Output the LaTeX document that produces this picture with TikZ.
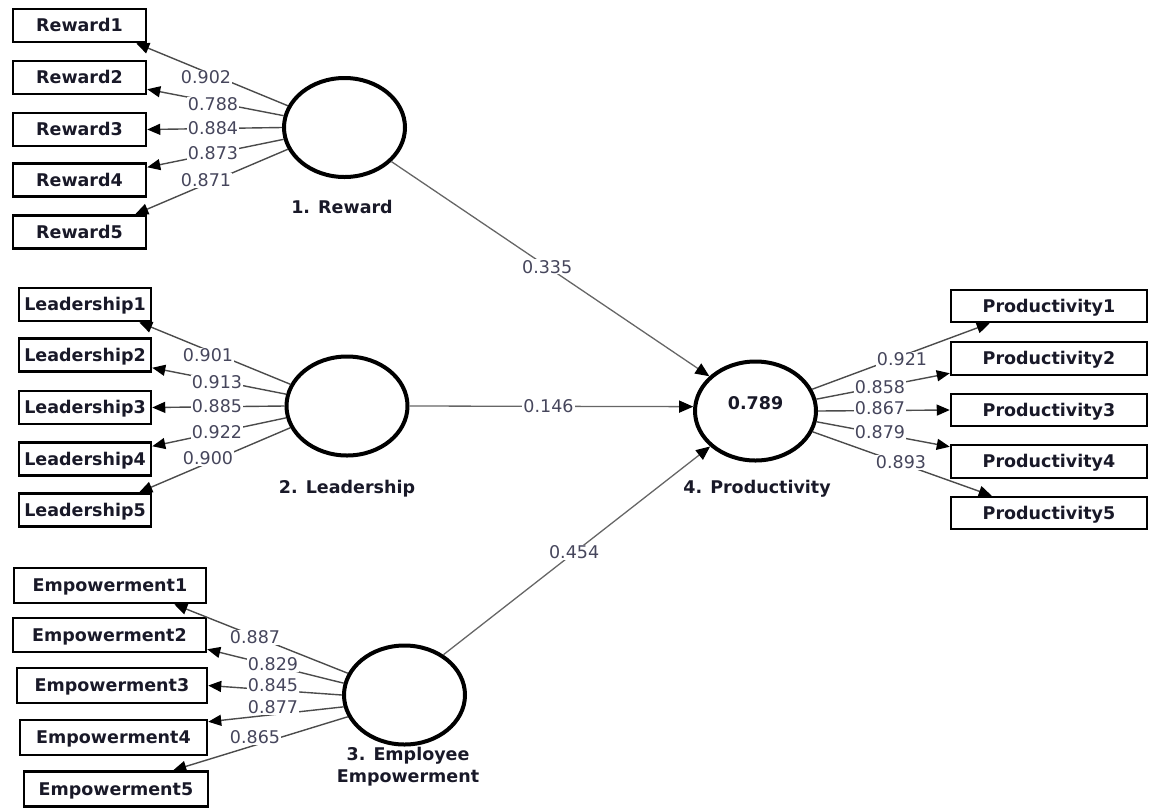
\documentclass[tikz,border=0pt]{standalone}
\usepackage{fontspec}
\setmainfont{DejaVu Sans}
\usetikzlibrary{shapes.geometric,arrows.meta}
\definecolor{txtcol}{RGB}{25,25,40}
\definecolor{numcol}{RGB}{70,70,92}
\definecolor{lncol}{RGB}{75,75,75}
\begin{document}
\begin{tikzpicture}[x=1pt,y=-1pt,
  ind/.style={draw=black, line width=2.5pt, fill=white,
    font=\fontsize{17.5}{20}\selectfont\bfseries, text=txtcol,
    text height=12.6pt, text depth=0pt, inner sep=0pt, minimum height=33pt},
  lat/.style={ellipse, draw=black, line width=4pt, fill=white,
    minimum width=121pt, minimum height=99pt, inner sep=0pt},
  numlbl/.style={fill=white, inner sep=1.2pt, font=\fontsize{17.5}{20}\selectfont,
    text=numcol, text height=12.6pt, text depth=0pt},
  latlbl/.style={font=\fontsize{17.5}{22}\selectfont\bfseries, text=txtcol,
    align=center, text height=12.6pt, text depth=0pt, inner sep=0pt},
  load/.style={draw=lncol, line width=1.4pt,
    -{Triangle[length=13pt,width=11pt,color=black]}},
  struct/.style={draw=lncol!85, line width=1.3pt,
    -{Triangle[length=14pt,width=12pt,color=black]}}
]
\useasboundingbox (0,0) rectangle (1151,807);

% latent variables
\node[lat] (rew) at (344.5,127.5) {};
\node[lat] (lead) at (347,406) {};
\node[lat] (emp) at (404.5,695) {};
\node[lat, font=\fontsize{17.5}{20}\selectfont\bfseries, text=txtcol,
      text height=12.6pt, text depth=16pt] (prod) at (755.5,411) {0.789};

\node[latlbl] (rewl) at (342,207) {1. Reward};
\node[latlbl] (leadl) at (347,487) {2. Leadership};
\node[latlbl] (empl) at (408,776) {3. Employee\\Empowerment};
\node[latlbl] (prodl) at (757,487) {4. Productivity};

% indicators: Reward
\node[ind, minimum width=133pt] (r1) at (79.5,25.5) {Reward1};
\node[ind, minimum width=133pt] (r2) at (79.5,77.5) {Reward2};
\node[ind, minimum width=133pt] (r3) at (79.5,129.5) {Reward3};
\node[ind, minimum width=133pt] (r4) at (79.5,180) {Reward4};
\node[ind, minimum width=133pt] (r5) at (79.5,232) {Reward5};
% Leadership
\node[ind, minimum width=132pt] (l1) at (85,304.5) {Leadership1};
\node[ind, minimum width=132pt] (l2) at (85,355) {Leadership2};
\node[ind, minimum width=132pt] (l3) at (85,407.5) {Leadership3};
\node[ind, minimum width=132pt] (l4) at (85,459) {Leadership4};
\node[ind, minimum width=132pt] (l5) at (85,510) {Leadership5};
% Empowerment
\node[ind, minimum width=192pt, minimum height=35pt] (e1) at (110,585.5) {Empowerment1};
\node[ind, minimum width=193pt, minimum height=34pt] (e2) at (109.5,635) {Empowerment2};
\node[ind, minimum width=190pt, minimum height=35pt] (e3) at (112,685.5) {Empowerment3};
\node[ind, minimum width=187pt, minimum height=35pt] (e4) at (113.5,737.5) {Empowerment4};
\node[ind, minimum width=184pt, minimum height=35pt] (e5) at (116,789) {Empowerment5};
% Productivity
\node[ind, minimum width=196pt, minimum height=32pt] (p1) at (1049,306) {Productivity1};
\node[ind, minimum width=196pt, minimum height=33pt] (p2) at (1049,358.5) {Productivity2};
\node[ind, minimum width=196pt, minimum height=32pt] (p3) at (1049,410) {Productivity3};
\node[ind, minimum width=196pt, minimum height=33pt] (p4) at (1049,461.5) {Productivity4};
\node[ind, minimum width=196pt, minimum height=32pt] (p5) at (1049,513) {Productivity5};

% loadings: Reward
\draw[load] (rew.159) -- ([xshift=-11pt]r1.south east);
\draw[load] (rew.169) -- ([yshift=6pt]r2.south east);
\draw[load] (rew.180) -- (r3.east);
\draw[load] (rew.191) -- ([yshift=-5pt]r4.north east);
\draw[load] (rew.201) -- ([xshift=-12pt]r5.north east);
% Leadership
\draw[load] (lead.159) -- ([xshift=-13pt]l1.south east);
\draw[load] (lead.169) -- ([yshift=5pt]l2.south east);
\draw[load] (lead.180) -- (l3.east);
\draw[load] (lead.191) -- ([yshift=-5pt]l4.north east);
\draw[load] (lead.201) -- ([xshift=-13pt]l5.north east);
% Empowerment
\draw[load] (emp.159) -- ([xshift=-33pt]e1.south east);
\draw[load] (emp.169) -- ([yshift=4pt]e2.south east);
\draw[load] (emp.180) -- (e3.east);
\draw[load] (emp.191) -- ([yshift=-3pt]e4.north east);
\draw[load] (emp.201) -- ([xshift=-36pt]e5.north east);
% Productivity
\draw[load] (prod.21) -- ([xshift=40pt]p1.south west);
\draw[load] (prod.11) -- ([yshift=3pt]p2.south west);
\draw[load] (prod.0) -- (p3.west);
\draw[load] (prod.-10) -- ([yshift=-3pt]p4.north west);
\draw[load] (prod.-20) -- ([xshift=42pt]p5.north west);

% structural paths
\draw[struct] (rew.-36) -- node[numlbl, pos=0.49] {0.335} (prod.143);
\draw[struct] (lead.east) -- node[numlbl, pos=0.49] {0.146} (prod.176);
\draw[struct] (emp.46) -- node[numlbl, pos=0.49] {0.454} (prod.218);

% loading values
\node[numlbl] at (206,77) {0.902};
\node[numlbl] at (213,104) {0.788};
\node[numlbl] at (213,128) {0.884};
\node[numlbl] at (213,153) {0.873};
\node[numlbl] at (206,180) {0.871};

\node[numlbl] at (208,355) {0.901};
\node[numlbl] at (217,382) {0.913};
\node[numlbl] at (217,406) {0.885};
\node[numlbl] at (217,432) {0.922};
\node[numlbl] at (208,458) {0.900};

\node[numlbl] at (255,637) {0.887};
\node[numlbl] at (273,664) {0.829};
\node[numlbl] at (273,685) {0.845};
\node[numlbl] at (273,707) {0.877};
\node[numlbl] at (255,737) {0.865};

\node[numlbl] at (902,359) {0.921};
\node[numlbl] at (880,387) {0.858};
\node[numlbl] at (880,408) {0.867};
\node[numlbl] at (880,432) {0.879};
\node[numlbl] at (901,462) {0.893};
\end{tikzpicture}
\end{document}
